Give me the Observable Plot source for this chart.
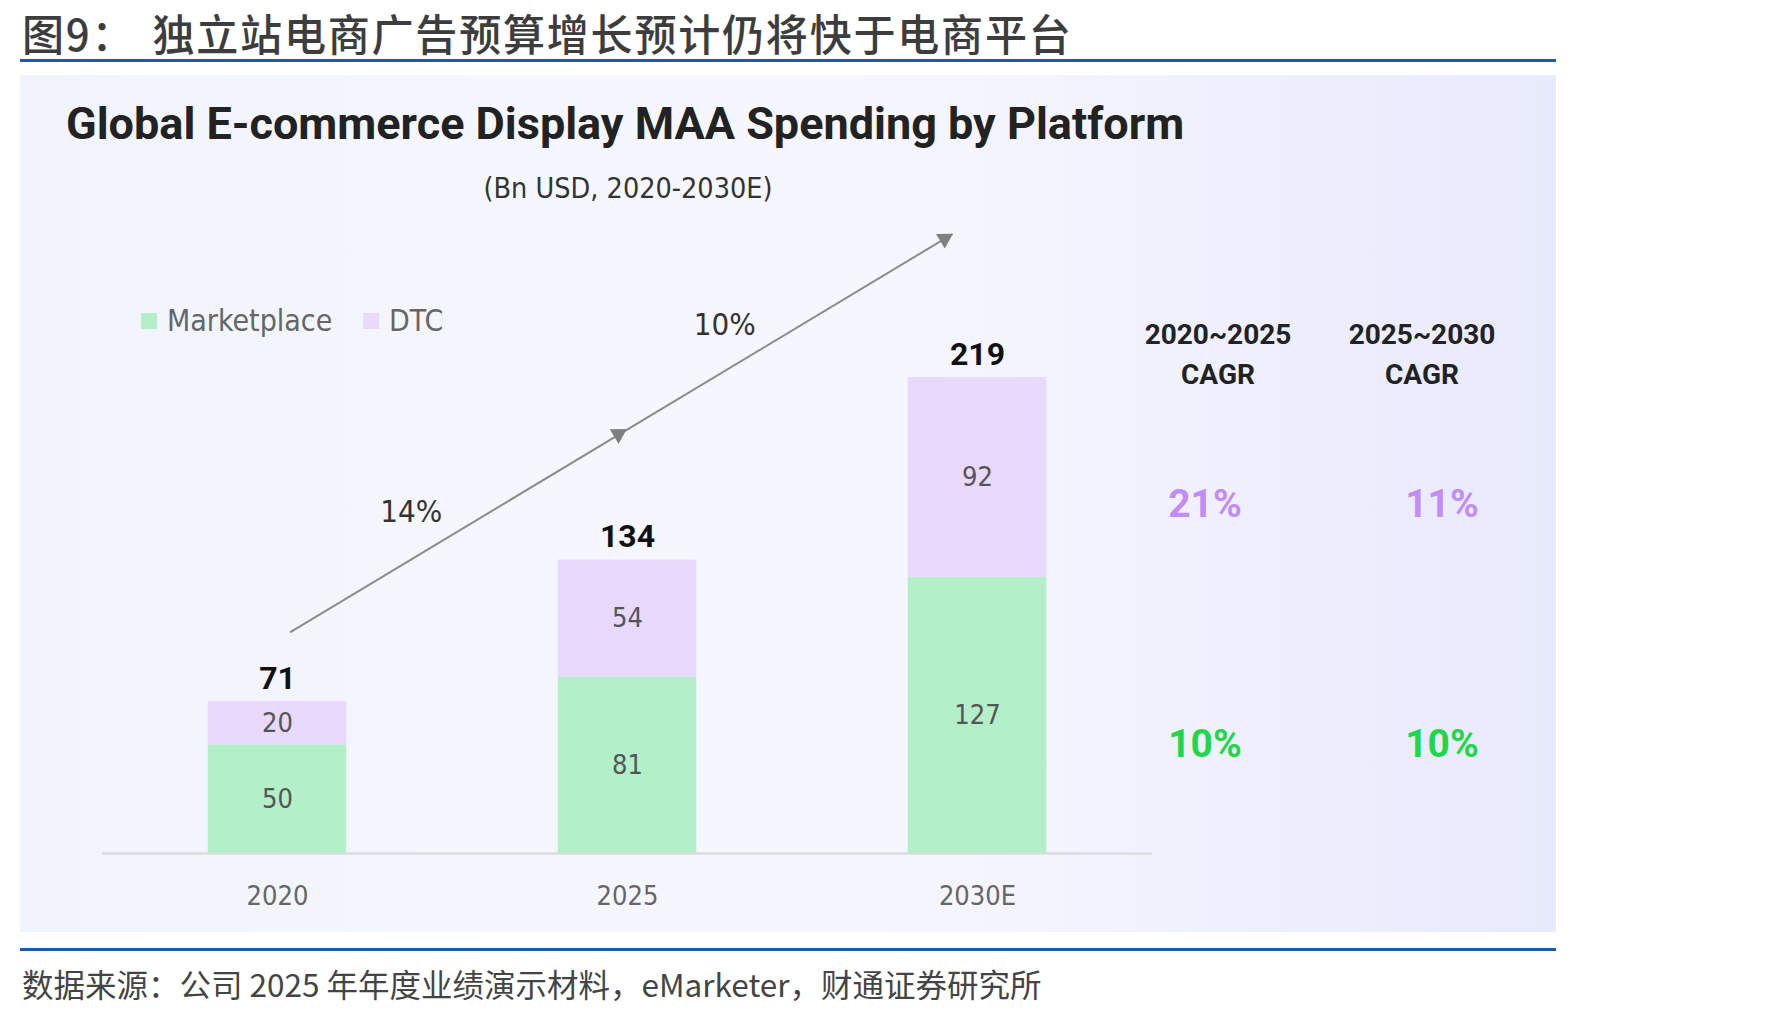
<!DOCTYPE html>
<html>
<head>
<meta charset="utf-8">
<script src="https://cdn.jsdelivr.net/npm/d3@7"></script>
<script src="https://cdn.jsdelivr.net/npm/@observablehq/plot@0.6"></script>
<style>
  html, body { margin: 0; padding: 0; background: #ffffff; }
  #page { position: relative; width: 1771px; height: 1017px; overflow: hidden; background: #fff; }
  .abs { position: absolute; line-height: 1; white-space: nowrap; }
  .cy { transform: translateY(-50%); }
  .cxy { transform: translate(-50%, -50%); text-align: center; }
  #fig-title { left: 22px; top: 32px; font-family: "Noto Sans CJK SC", sans-serif; font-size: 43px; font-weight: 500; color: #3d3d3d; letter-spacing: 1.8px; line-height: 46px;
    transform: translateY(-50%) scaleX(0.978); transform-origin: 0 50%; }
  #fig-title .gap { display: inline-block; width: 6px; }
  .blue-line { position: absolute; left: 20px; width: 1536px; height: 3px; background: #1f5aa8; }
  #panel { position: absolute; left: 20px; top: 75px; width: 1536px; height: 857px;
    background: linear-gradient(90deg, #f1f4fd 0%, #f6f7fe 40%, #f4f5fe 62%, #e8eafd 100%); }
  #chart { position: absolute; left: 0; top: 0; }
  #chart-title { left: 46px; top: 48px; font-family: Roboto, "DejaVu Sans", sans-serif; font-size: 45px; font-weight: 700; color: #222; }
  #subtitle { left: 608px; top: 114px; font-family: "DejaVu Sans Condensed", Roboto, sans-serif; font-size: 28.5px; color: #333; }
  .legend-item { top: 246px; font-family: "DejaVu Sans Condensed", Roboto, sans-serif; font-size: 30px; color: #666; display: flex; align-items: center; }
  .legend-item span.sw { display: inline-block; width: 16px; height: 16px; margin-right: 10px; }
  .cagr-head { font-family: Roboto, sans-serif; font-weight: 700; font-size: 28px; color: #222; text-align: center; line-height: 40px; }
  .cagr-val { font-family: Roboto, sans-serif; font-weight: 700; font-size: 39px; }
  #source { left: 22px; top: 984px; font-family: "Noto Sans CJK SC", sans-serif; font-size: 31.5px; color: #444; }
</style>
</head>
<body>
<div id="page">
  <div id="fig-title" class="abs">图9：<span class="gap"></span> 独立站电商广告预算增长预计仍将快于电商平台</div>
  <div class="blue-line" style="top:59px"></div>
  <div id="panel">
    <div id="chart"></div>
    <div id="chart-title" class="abs cy">Global E-commerce Display MAA Spending by Platform</div>
    <div id="subtitle" class="abs cxy">(Bn USD, 2020-2030E)</div>
    <div id="legend"></div>
    <div id="cagr"></div>
  </div>
  <div class="blue-line" style="top:948px"></div>
  <div id="source" class="abs cy">数据来源：公司 2025 年年度业绩演示材料，eMarketer，财通证券研究所</div>
</div>
<script>
// ---------------- data ----------------
const years = [2020, 2025, 2030];
const yearLabels = ["2020", "2025", "2030E"];
const seriesNames = ["Marketplace", "DTC"];
const seriesColors = ["#b3f0ca", "#e9d9fd"];
const marketplace = [50, 81, 127];
const dtc = [20, 54, 92];
const totals = [71, 134, 219];

// trend arrow (x in years, y in Bn USD)
const trendX = [2020.19, 2029.63];
const trendY = [102, 284.8];
const arrowHeadX = [2024.87, 2029.53];
const arrowHeadY = [193, 282.9];
const growthLabels = ["14%", "10%"];
const growthLabelX = [2021.91, 2026.39];
const growthLabelY = [157, 243];

// CAGR table
const cagrPeriods = ["2020~2025", "2025~2030"];
const cagrDTC = ["21%", "11%"];
const cagrMarketplace = ["10%", "10%"];

// ---------------- build tables ----------------
const segments = [];
years.forEach((yr, i) => {
  const vals = [marketplace[i], dtc[i]];
  let base = 0;
  vals.forEach((v, j) => {
    segments.push({year: yr, series: seriesNames[j], value: v, y1: base, y2: base + v});
    base += v;
  });
});
const stackTops = years.map((yr, i) => ({year: yr, top: marketplace[i] + dtc[i], label: totals[i]}));
const trend = trendX.map((x, i) => ({x, y: trendY[i]}));
const heads = arrowHeadX.map((x, i) => ({x, y: arrowHeadY[i]}));
const growth = growthLabels.map((t, i) => ({x: growthLabelX[i], y: growthLabelY[i], t}));
const colorOf = Object.fromEntries(seriesNames.map((s, i) => [s, seriesColors[i]]));
const halfBar = 0.99;
const narrow = "'DejaVu Sans Condensed', Roboto, sans-serif";

const chart = Plot.plot({
  width: 1536,
  height: 857,
  marginLeft: 82,
  marginRight: 404,
  marginTop: 100,
  marginBottom: 79,
  x: {domain: [2017.5, 2032.5], axis: null},
  y: {domain: [0, 312], axis: null},
  style: {background: "transparent", fontFamily: narrow, overflow: "visible"},
  marks: [
    Plot.ruleY([0], {stroke: "#dddddd", strokeWidth: 2.5}),
    Plot.rect(segments, {
      x1: d => d.year - halfBar, x2: d => d.year + halfBar,
      y1: "y1", y2: "y2", fill: d => colorOf[d.series]
    }),
    Plot.text(segments, {
      x: "year", y: d => (d.y1 + d.y2) / 2, text: d => String(d.value),
      fontSize: 27, fill: "#555"
    }),
    Plot.text(stackTops, {
      x: "year", y: "top", text: d => String(d.label), dy: -23,
      fontSize: 32, fontWeight: "bold", fill: "#111", fontFamily: "Roboto, sans-serif"
    }),
    Plot.text(years, {
      x: d => d, y: 0, text: (d, i) => yearLabels[i], dy: 43,
      fontSize: 27, fill: "#666"
    }),
    Plot.line(trend, {x: "x", y: "y", stroke: "#8c8c8c", strokeWidth: 2}),
    Plot.dot(heads, {x: "x", y: "y", symbol: "triangle", r: 6.3, fill: "#7f7f7f", stroke: "none", rotate: 59}),
    Plot.text(growth, {x: "x", y: "y", text: "t", fontSize: 31, fill: "#333"})
  ]
});
document.getElementById("chart").appendChild(chart);

// legend
const legend = document.getElementById("legend");
const legendLeft = [121, 343];
seriesNames.forEach((s, i) => {
  const el = document.createElement("div");
  el.className = "abs cy legend-item";
  el.style.left = legendLeft[i] + "px";
  el.innerHTML = `<span class="sw" style="background:${seriesColors[i]}"></span>${s}`;
  legend.appendChild(el);
});

// CAGR table
const cagr = document.getElementById("cagr");
const headX = [1198, 1402];
const valX = [1185, 1422];
cagrPeriods.forEach((p, i) => {
  const h = document.createElement("div");
  h.className = "abs cxy cagr-head";
  h.style.left = headX[i] + "px";
  h.style.top = "280px";
  h.innerHTML = `${p}<br>CAGR`;
  cagr.appendChild(h);
  const a = document.createElement("div");
  a.className = "abs cxy cagr-val";
  a.style.left = valX[i] + "px";
  a.style.top = "429px";
  a.style.color = "#c38df7";
  a.textContent = cagrDTC[i];
  cagr.appendChild(a);
  const b = document.createElement("div");
  b.className = "abs cxy cagr-val";
  b.style.left = valX[i] + "px";
  b.style.top = "669px";
  b.style.color = "#1fd74b";
  b.textContent = cagrMarketplace[i];
  cagr.appendChild(b);
});
</script>
</body>
</html>
